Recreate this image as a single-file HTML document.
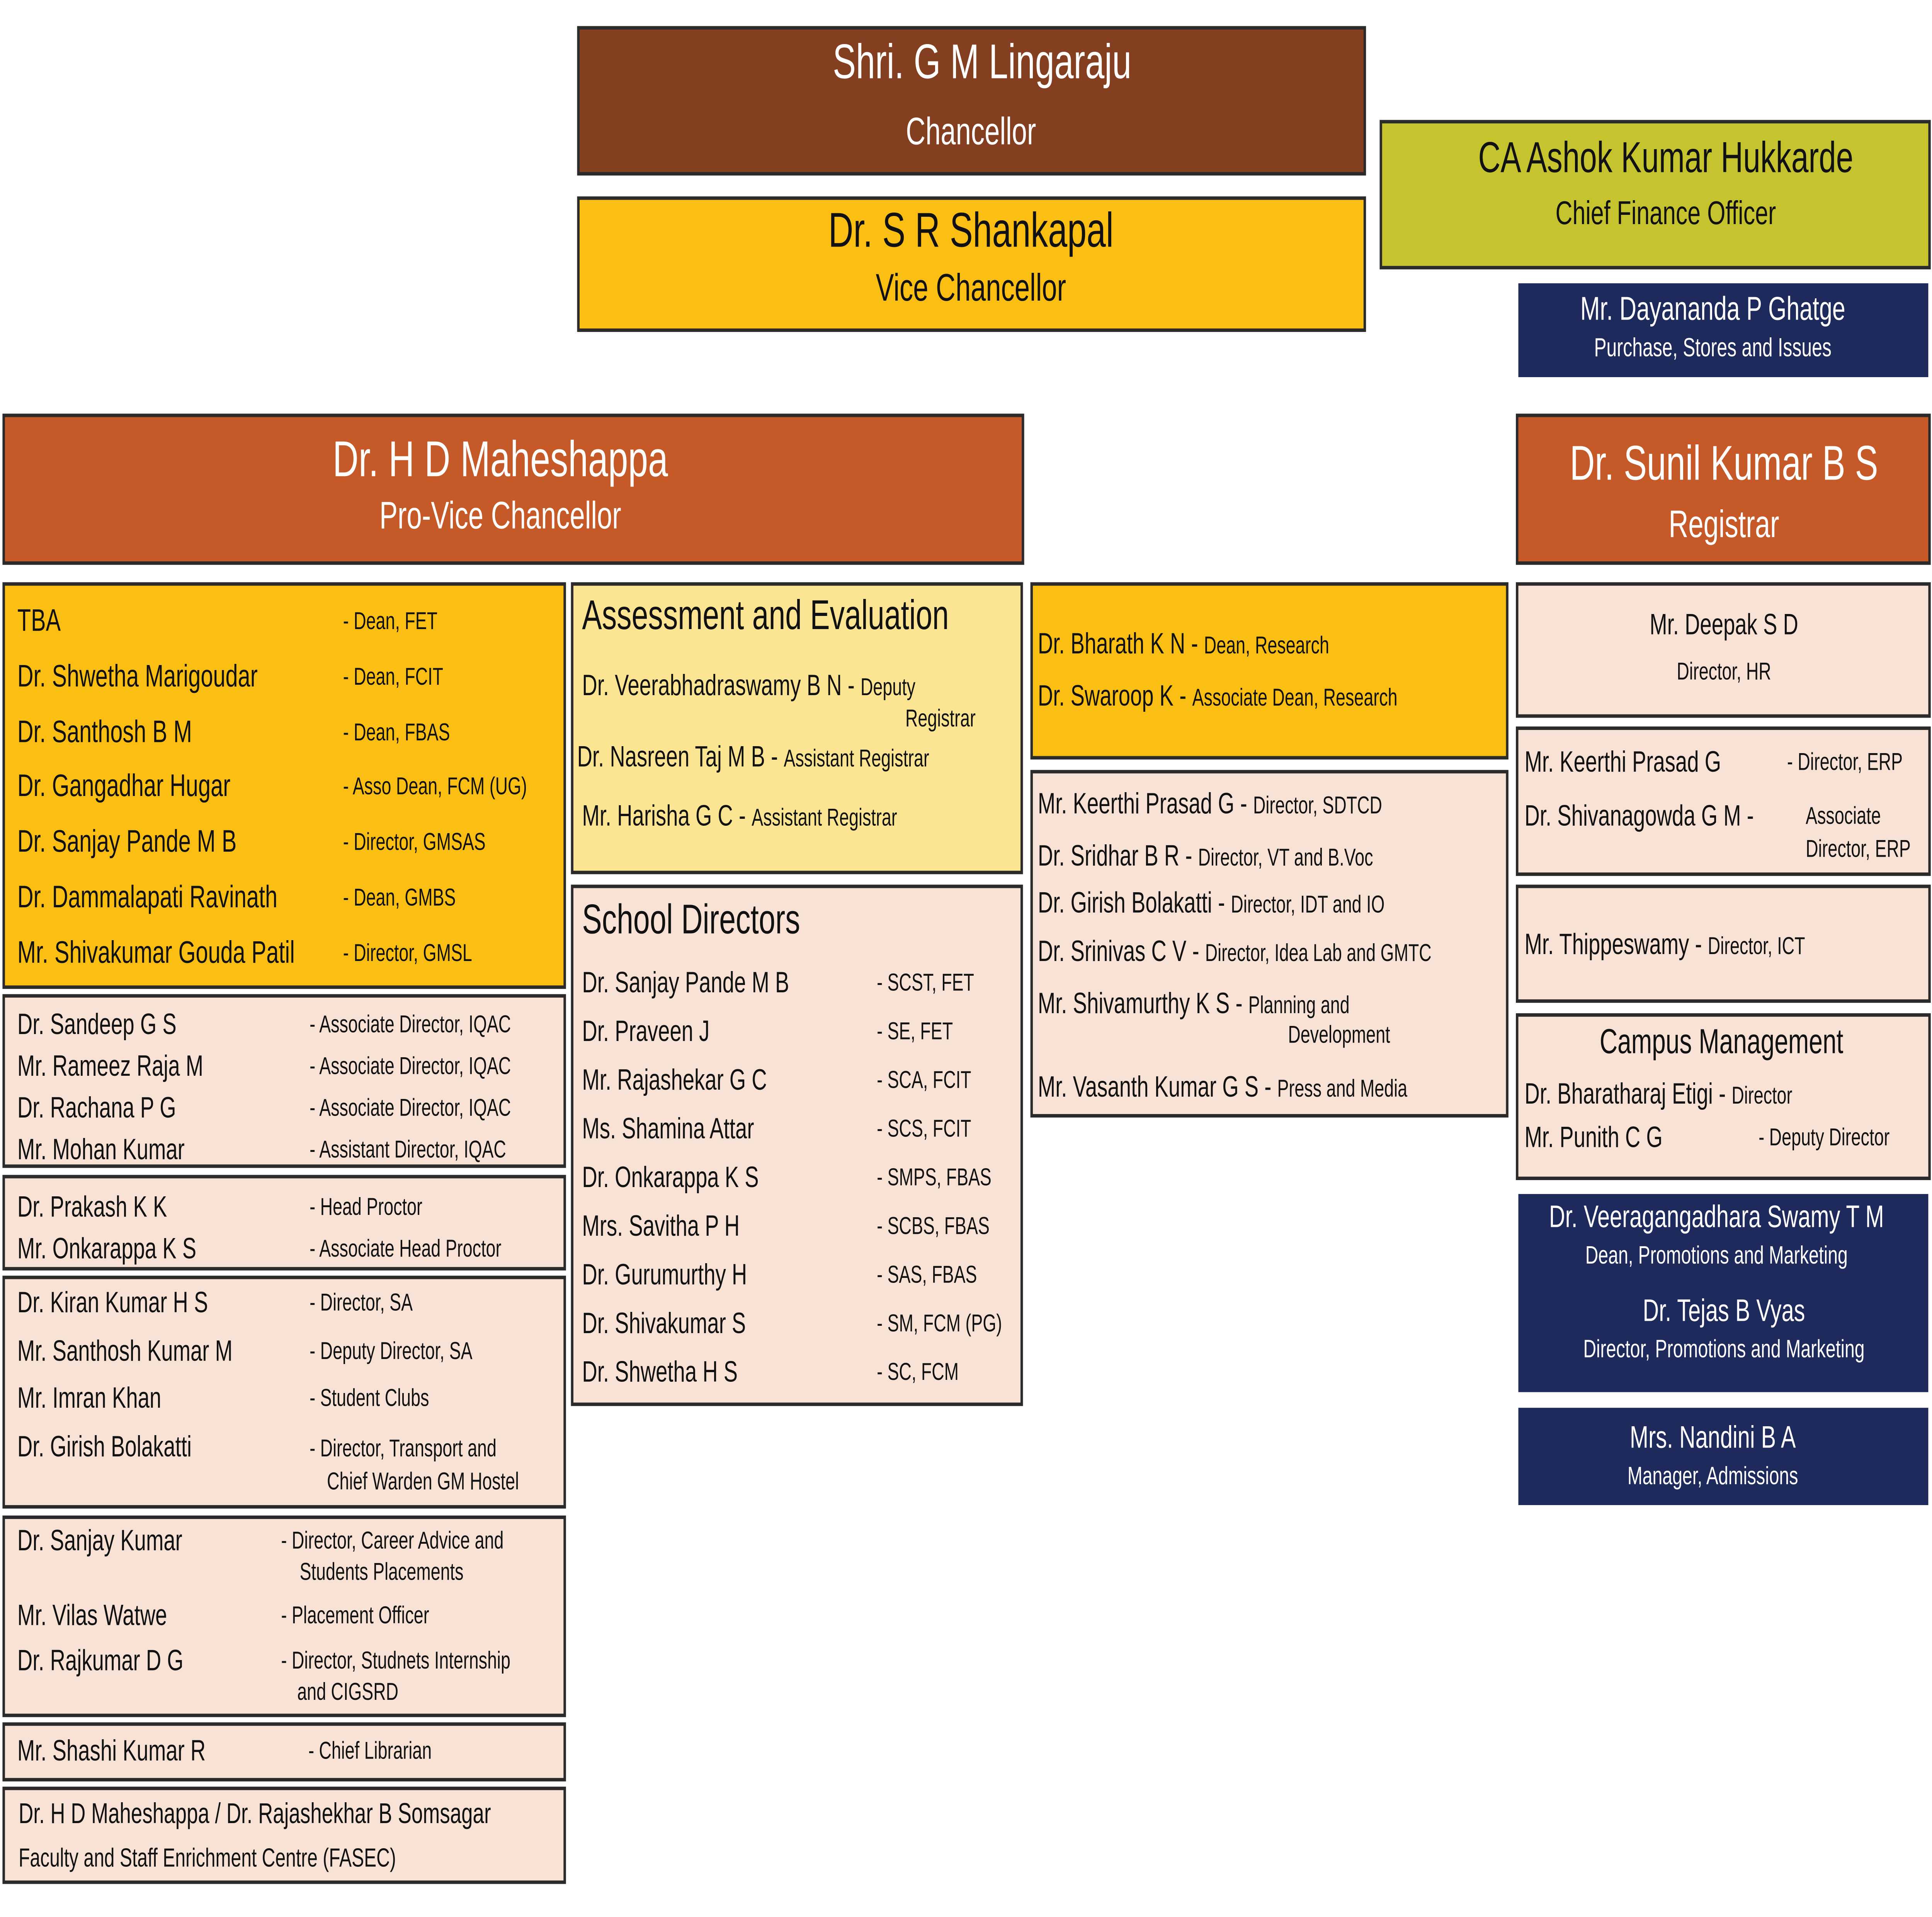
<!DOCTYPE html>
<html><head><meta charset="utf-8"><style>
html,body{margin:0;padding:0;background:#fff;width:100%;height:100%;overflow:hidden;}
svg{display:block;width:100vw;height:100vh;}
text{font-family:"Liberation Sans",sans-serif;fill:#111;}
.w{fill:#fff;}
.m{text-anchor:middle;}
rect{stroke:#2b2b2b;stroke-width:2;}
.pale{fill:#f8e2d6;}
.yel{fill:#fbbf14;}
.navy{fill:#1f2a5c;stroke:#fff;}
.n{font-size:18px;}
.s{font-size:17px;}
.r{font-size:14px;}
</style></head><body>
<svg viewBox="0 0 1560 1103" preserveAspectRatio="none" xmlns="http://www.w3.org/2000/svg">
<rect x="467" y="16" width="635" height="84" fill="#833f1f"/>
<text class="w m" x="793" y="45" font-size="28">Shri. G M Lingaraju</text>
<text class="w m" x="784" y="83" font-size="22">Chancellor</text>
<rect class="yel" x="467" y="114" width="635" height="76"/>
<text class="m" x="784" y="142" font-size="28">Dr. S R Shankapal</text>
<text class="m" x="784" y="173" font-size="22">Vice Chancellor</text>
<rect x="1115" y="70" width="443" height="84" fill="#c5c42f"/>
<text class="m" x="1345" y="99" font-size="25">CA Ashok Kumar Hukkarde</text>
<text class="m" x="1345" y="129" font-size="19">Chief Finance Officer</text>
<rect class="navy" x="1225" y="162" width="333" height="56"/>
<text class="w m" x="1383" y="184" font-size="19">Mr. Dayananda P Ghatge</text>
<text class="w m" x="1383" y="205" font-size="15">Purchase, Stores and Issues</text>
<rect x="3" y="239" width="823" height="85" fill="#c55a28"/>
<text class="w m" x="404" y="274" font-size="29">Dr. H D Maheshappa</text>
<text class="w m" x="404" y="304" font-size="22">Pro-Vice Chancellor</text>
<rect x="1225" y="239" width="333" height="85" fill="#c55a28"/>
<text class="w m" x="1392" y="276" font-size="28">Dr. Sunil Kumar B S</text>
<text class="w m" x="1392" y="309" font-size="22">Registrar</text>

<rect class="yel" x="3" y="336" width="453" height="232"/>
<text class="n" x="14" y="363">TBA</text><text class="r" x="277" y="362">-  Dean, FET</text>
<text class="n" x="14" y="395">Dr. Shwetha Marigoudar</text><text class="r" x="277" y="394">-  Dean, FCIT</text>
<text class="n" x="14" y="427">Dr. Santhosh B M</text><text class="r" x="277" y="426">-  Dean, FBAS</text>
<text class="n" x="14" y="458">Dr. Gangadhar Hugar</text><text class="r" x="277" y="457">-  Asso Dean, FCM (UG)</text>
<text class="n" x="14" y="490">Dr. Sanjay Pande M B</text><text class="r" x="277" y="489">-  Director, GMSAS</text>
<text class="n" x="14" y="522">Dr. Dammalapati Ravinath</text><text class="r" x="277" y="521">-  Dean, GMBS</text>
<text class="n" x="14" y="554">Mr. Shivakumar Gouda Patil</text><text class="r" x="277" y="553">-  Director, GMSL</text>

<rect class="pale" x="3" y="573" width="453" height="98"/>
<text class="s" x="14" y="595">Dr. Sandeep G S</text><text class="r" x="250" y="594">-  Associate Director, IQAC</text>
<text class="s" x="14" y="619">Mr. Rameez Raja M</text><text class="r" x="250" y="618">-  Associate Director, IQAC</text>
<text class="s" x="14" y="643">Dr. Rachana P G</text><text class="r" x="250" y="642">-  Associate Director, IQAC</text>
<text class="s" x="14" y="667">Mr. Mohan Kumar</text><text class="r" x="250" y="666">-  Assistant Director, IQAC</text>

<rect class="pale" x="3" y="677" width="453" height="53"/>
<text class="s" x="14" y="700">Dr. Prakash K K</text><text class="r" x="250" y="699">-  Head Proctor</text>
<text class="s" x="14" y="724">Mr. Onkarappa K S</text><text class="r" x="250" y="723">-  Associate Head Proctor</text>

<rect class="pale" x="3" y="735" width="453" height="132"/>
<text class="s" x="14" y="755">Dr. Kiran Kumar H S</text><text class="r" x="250" y="754">-  Director, SA</text>
<text class="s" x="14" y="783">Mr. Santhosh Kumar M</text><text class="r" x="250" y="782">-  Deputy Director, SA</text>
<text class="s" x="14" y="810">Mr. Imran Khan</text><text class="r" x="250" y="809">-  Student Clubs</text>
<text class="s" x="14" y="838">Dr. Girish Bolakatti</text><text class="r" x="250" y="838">-  Director, Transport and</text>
<text class="r" x="264" y="857">Chief Warden GM Hostel</text>

<rect class="pale" x="3" y="873" width="453" height="114"/>
<text class="s" x="14" y="892">Dr. Sanjay Kumar</text><text class="r" x="227" y="891">-  Director, Career Advice and</text>
<text class="r" x="242" y="909">Students Placements</text>
<text class="s" x="14" y="935">Mr. Vilas Watwe</text><text class="r" x="227" y="934">-  Placement Officer</text>
<text class="s" x="14" y="961">Dr. Rajkumar D G</text><text class="r" x="227" y="960">-  Director, Studnets Internship</text>
<text class="r" x="240" y="978">and CIGSRD</text>

<rect class="pale" x="3" y="992" width="453" height="32"/>
<text class="s" x="14" y="1013">Mr. Shashi Kumar R</text><text class="r" x="249" y="1012">-  Chief Librarian</text>

<rect class="pale" x="3" y="1029" width="453" height="54"/>
<text x="15" y="1049" font-size="16.5">Dr. H D Maheshappa / Dr. Rajashekhar B Somsagar</text>
<text x="15" y="1074" font-size="15">Faculty and Staff Enrichment Centre (FASEC)</text>

<rect x="462" y="336" width="363" height="166" fill="#fbe592"/>
<text x="470" y="362" font-size="24">Assessment and Evaluation</text>
<text class="s" x="470" y="400">Dr. Veerabhadraswamy B N - <tspan font-size="14">Deputy</tspan></text>
<text class="r" x="731" y="418">Registrar</text>
<text class="s" x="466" y="441">Dr. Nasreen Taj M B - <tspan font-size="14">Assistant Registrar</tspan></text>
<text class="s" x="470" y="475">Mr. Harisha G C - <tspan font-size="14">Assistant Registrar</tspan></text>

<rect class="pale" x="462" y="510" width="363" height="298"/>
<text x="470" y="537" font-size="24">School Directors</text>
<text class="s" x="470" y="571">Dr. Sanjay Pande M B</text><text class="r" x="708" y="570">-  SCST, FET</text>
<text class="s" x="470" y="599">Dr. Praveen J</text><text class="r" x="708" y="598">-  SE, FET</text>
<text class="s" x="470" y="627">Mr. Rajashekar G C</text><text class="r" x="708" y="626">-  SCA, FCIT</text>
<text class="s" x="470" y="655">Ms. Shamina Attar</text><text class="r" x="708" y="654">-  SCS, FCIT</text>
<text class="s" x="470" y="683">Dr. Onkarappa K S</text><text class="r" x="708" y="682">-  SMPS, FBAS</text>
<text class="s" x="470" y="711">Mrs. Savitha P H</text><text class="r" x="708" y="710">-  SCBS, FBAS</text>
<text class="s" x="470" y="739">Dr. Gurumurthy H</text><text class="r" x="708" y="738">-  SAS, FBAS</text>
<text class="s" x="470" y="767">Dr. Shivakumar S</text><text class="r" x="708" y="766">-  SM, FCM (PG)</text>
<text class="s" x="470" y="795">Dr. Shwetha H S</text><text class="r" x="708" y="794">-  SC, FCM</text>

<rect class="yel" x="833" y="336" width="384" height="100"/>
<text class="s" x="838" y="376">Dr. Bharath K N - <tspan font-size="14">Dean, Research</tspan></text>
<text class="s" x="838" y="406">Dr. Swaroop K  - <tspan font-size="14">Associate Dean, Research</tspan></text>

<rect class="pale" x="833" y="444" width="384" height="198"/>
<text class="s" x="838" y="468">Mr. Keerthi Prasad G - <tspan font-size="14">Director, SDTCD</tspan></text>
<text class="s" x="838" y="498">Dr. Sridhar B R  - <tspan font-size="14">Director, VT and B.Voc</tspan></text>
<text class="s" x="838" y="525">Dr. Girish Bolakatti - <tspan font-size="14">Director, IDT and IO</tspan></text>
<text class="s" x="838" y="553">Dr. Srinivas C V -  <tspan font-size="14">Director, Idea Lab and GMTC</tspan></text>
<text class="s" x="838" y="583">Mr. Shivamurthy K S - <tspan font-size="14">Planning and</tspan></text>
<text class="r" x="1040" y="600">Development</text>
<text class="s" x="838" y="631">Mr. Vasanth Kumar G S - <tspan font-size="14">Press and Media</tspan></text>

<rect class="pale" x="1225" y="336" width="333" height="76"/>
<text class="s m" x="1392" y="365">Mr. Deepak S D</text>
<text class="r m" x="1392" y="391">Director, HR</text>

<rect class="pale" x="1225" y="419" width="333" height="84"/>
<text class="s" x="1231" y="444">Mr. Keerthi Prasad  G</text><text class="r" x="1443" y="443">-  Director, ERP</text>
<text class="s" x="1231" y="475">Dr. Shivanagowda G M -</text><text class="r" x="1458" y="474">Associate</text>
<text class="r" x="1458" y="493">Director, ERP</text>

<rect class="pale" x="1225" y="510" width="333" height="66"/>
<text class="s" x="1231" y="549">Mr. Thippeswamy - <tspan font-size="14">Director, ICT</tspan></text>

<rect class="pale" x="1225" y="584" width="333" height="94"/>
<text class="m" x="1390" y="606" font-size="20">Campus Management</text>
<text class="s" x="1231" y="635">Dr. Bharatharaj Etigi - <tspan font-size="14">Director</tspan></text>
<text class="s" x="1231" y="660">Mr. Punith C G</text><text class="r" x="1420" y="659">-  Deputy Director</text>

<rect class="navy" x="1225" y="686" width="333" height="116"/>
<text class="w m" x="1386" y="706" font-size="18">Dr. Veeragangadhara Swamy T M</text>
<text class="w m" x="1386" y="727" font-size="14.5">Dean, Promotions and Marketing</text>
<text class="w m" x="1392" y="760" font-size="18">Dr. Tejas B Vyas</text>
<text class="w m" x="1392" y="781" font-size="14.5">Director, Promotions and Marketing</text>

<rect class="navy" x="1225" y="809" width="333" height="58"/>
<text class="w m" x="1383" y="833" font-size="18">Mrs. Nandini B A</text>
<text class="w m" x="1383" y="854" font-size="14.5">Manager, Admissions</text>
</svg>
</body></html>
